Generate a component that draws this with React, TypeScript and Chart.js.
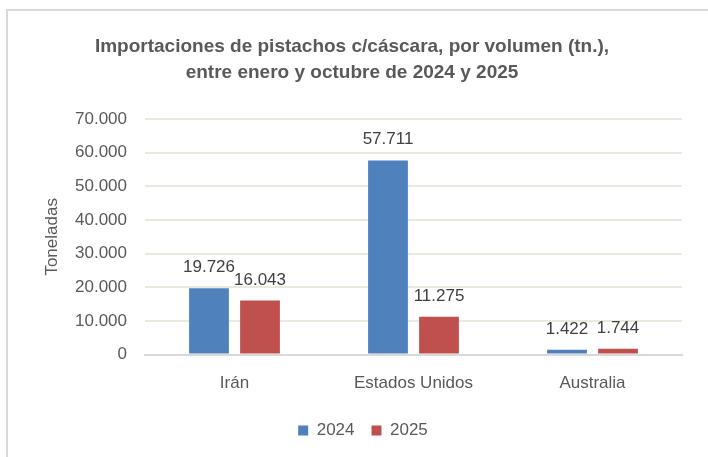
import React, { useEffect, useRef } from "react";
import { Chart, registerables } from "chart.js";

Chart.register(...registerables);

const categories = ["Irán", "Estados Unidos", "Australia"];
const series2024 = [19726, 57711, 1422];
const series2025 = [16043, 11275, 1744];
const seriesLabels = ["2024", "2025"];
const titleLines = [
  "Importaciones de pistachos c/cáscara, por volumen (tn.),",
  "entre enero y octubre de 2024 y 2025",
];
const yTitle = "Toneladas";

const FONT = "'Liberation Sans', Arial, sans-serif";

const fmt = (v: number) => v.toLocaleString("de-DE");

const dataLabelPlugin = {
  id: "dataLabels",
  afterDatasetsDraw(chart: any) {
    const ctx = chart.ctx;
    ctx.save();
    ctx.font = `17px ${FONT}`;
    ctx.fillStyle = "#404040";
    ctx.textAlign = "center";
    ctx.textBaseline = "alphabetic";
    chart.data.datasets.forEach((ds: any, i: number) => {
      const meta = chart.getDatasetMeta(i);
      meta.data.forEach((bar: any, j: number) => {
        ctx.fillText(fmt(ds.data[j]), bar.x, bar.y - 16);
      });
    });
    ctx.restore();
  },
};

const legendShiftPlugin = {
  id: "legendShift",
  afterLayout(chart: any) {
    if (chart.legend) {
      chart.legend.left += 11;
      chart.legend.right += 11;
    }
  },
};

export default function App() {
  const ref = useRef<HTMLCanvasElement>(null);
  useEffect(() => {
    if (!ref.current) return;
    const chart = new Chart(ref.current, {
      type: "bar",
      data: {
        labels: categories,
        datasets: [
          { label: seriesLabels[0], data: series2024, backgroundColor: "#4f81bd" },
          { label: seriesLabels[1], data: series2025, backgroundColor: "#c0504d" },
        ],
      },
      plugins: [dataLabelPlugin, legendShiftPlugin],
      options: {
        animation: false,
        responsive: false,
        maintainAspectRatio: false,
        layout: { padding: { left: 22, right: 26, top: 0, bottom: 8 } },
        datasets: {
          bar: { categoryPercentage: 0.57, barPercentage: 0.78 },
        },
        plugins: {
          title: {
            display: true,
            text: titleLines,
            color: "#595959",
            font: { family: FONT, size: 19, weight: "bold", lineHeight: 1.37 },
            padding: { top: 34, bottom: 33 },
          },
          legend: {
            display: true,
            position: "bottom",
            labels: {
              boxWidth: 10,
              boxHeight: 10,
              color: "#595959",
              font: { family: FONT, size: 17 },
              padding: 17,
            },
          },
          tooltip: { enabled: false },
        },
        scales: {
          x: {
            grid: { display: false },
            border: { color: "#d9d9d9", width: 2 },
            ticks: { color: "#595959", font: { family: FONT, size: 17 }, padding: 11 },
          },
          y: {
            min: 0,
            max: 70000,
            ticks: {
              stepSize: 10000,
              color: "#595959",
              font: { family: FONT, size: 17 },
              padding: 18,
              callback: (v: any) => fmt(Number(v)),
            },
            grid: { color: "#ebe8dd", lineWidth: 2, drawTicks: false },
            border: { display: false },
            title: {
              display: true,
              text: yTitle,
              color: "#595959",
              font: { family: FONT, size: 17 },
              padding: { top: 20, bottom: 4 },
            },
            afterFit: (scale: any) => {
              scale.width = 123;
            },
          },
        },
      },
    });
    return () => chart.destroy();
  }, []);
  return (
    <div style={{ position: "fixed", left: 0, top: 0, width: 708, height: 457, background: "#fff" }}>
      <div
        style={{
          position: "absolute",
          left: 6,
          top: 9,
          right: 0,
          bottom: 0,
          borderLeft: "2px solid #d9d9d9",
          borderTop: "2px solid #d9d9d9",
        }}
      />
      <canvas ref={ref} width={708} height={457} style={{ position: "absolute", left: 0, top: 0 }} />
    </div>
  );
}
